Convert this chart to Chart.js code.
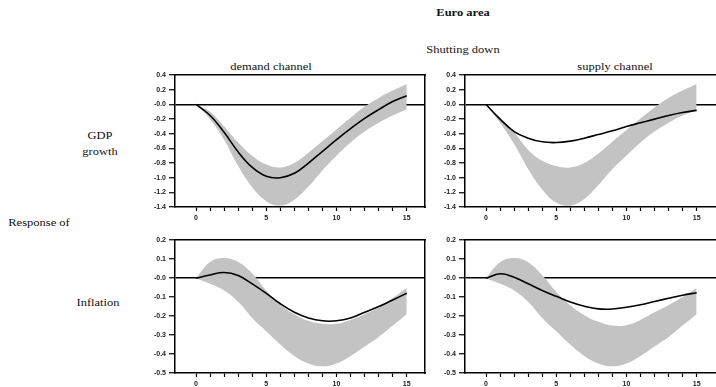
<!DOCTYPE html>
<html>
<head>
<meta charset="utf-8">
<script src="https://cdn.jsdelivr.net/npm/chart.js@4"></script>
<style>
  body { margin: 0; width: 716px; height: 387px; overflow: hidden; background: #fff; position: relative; }
  canvas { position: absolute; }
  .lbl { position: absolute; font-family: "Liberation Serif", "DejaVu Serif", serif; font-size: 12.5px; color: #111;
         transform: translate(-50%, -50%) scaleY(0.85); white-space: nowrap; }
</style>
</head>
<body>
<div class="lbl" style="left:463px; top:13px; font-weight:bold;">Euro area</div>
<div class="lbl" style="left:463px; top:50px;">Shutting down</div>
<div class="lbl" style="left:271px; top:67px;">demand channel</div>
<div class="lbl" style="left:615px; top:67px;">supply channel</div>
<div class="lbl" style="left:100px; top:136px;">GDP</div>
<div class="lbl" style="left:100px; top:152px;">growth</div>
<div class="lbl" style="left:39px; top:223px;">Response of</div>
<div class="lbl" style="left:98px; top:303px;">Inflation</div>

<canvas id="gdpDemand" width="287" height="159" style="left:140px; top:68px;"></canvas>
<canvas id="gdpSupply" width="289" height="159" style="left:430px; top:68px;"></canvas>
<canvas id="infDemand" width="287" height="160" style="left:140px; top:233px;"></canvas>
<canvas id="infSupply" width="289" height="160" style="left:430px; top:233px;"></canvas>

<script>
// quarters after the shock
const horizon = [0, 1, 2, 3, 4, 5, 6, 7, 8, 9, 10, 11, 12, 13, 14, 15];

// GDP growth, baseline band
const gdpBandUpper = [0, -0.10, -0.30, -0.52, -0.70, -0.82, -0.86, -0.80, -0.66, -0.50, -0.34, -0.18, -0.03, 0.09, 0.19, 0.28];
const gdpBandLower = [0, -0.20, -0.48, -0.84, -1.13, -1.32, -1.38, -1.30, -1.12, -0.90, -0.70, -0.52, -0.37, -0.25, -0.15, -0.07];
const gdpSupplyUpper = [0, -0.18, -0.38, -0.62, -0.77, -0.84, -0.86, -0.80, -0.67, -0.51, -0.35, -0.19, -0.04, 0.09, 0.19, 0.28];
const gdpSupplyLower = [0, -0.25, -0.54, -0.88, -1.16, -1.34, -1.38, -1.29, -1.10, -0.88, -0.70, -0.52, -0.37, -0.25, -0.15, -0.08];

// GDP growth, channel shut down
const gdpDemandLine = [0, -0.15, -0.38, -0.65, -0.86, -0.98, -1.00, -0.94, -0.80, -0.64, -0.48, -0.33, -0.19, -0.07, 0.04, 0.12];
const gdpSupplyLine = [0, -0.20, -0.37, -0.46, -0.51, -0.52, -0.50, -0.46, -0.41, -0.36, -0.30, -0.25, -0.20, -0.15, -0.11, -0.08];

// inflation, baseline band
const infDemandUpper = [0, 0.085, 0.106, 0.085, 0.025, -0.065, -0.14, -0.19, -0.225, -0.24, -0.24, -0.22, -0.19, -0.155, -0.105, -0.05];
const infSupplyUpper = [0, 0.084, 0.106, 0.084, 0.015, -0.072, -0.143, -0.195, -0.23, -0.25, -0.248, -0.22, -0.18, -0.143, -0.10, -0.052];
const infBandLower = [0, -0.03, -0.065, -0.125, -0.21, -0.28, -0.35, -0.41, -0.45, -0.465, -0.45, -0.41, -0.36, -0.31, -0.25, -0.19];

// inflation, channel shut down
const infDemandLine = [0, 0.017, 0.03, 0.014, -0.03, -0.08, -0.135, -0.18, -0.21, -0.225, -0.225, -0.21, -0.18, -0.15, -0.115, -0.08];
const infSupplyLine = [0, 0.023, 0.005, -0.03, -0.065, -0.096, -0.126, -0.148, -0.162, -0.163, -0.153, -0.14, -0.123, -0.106, -0.09, -0.077];

const gdpTicks = { min: -1.4, max: 0.4, step: 0.2 };
const infTicks = { min: -0.5, max: 0.2, step: 0.1 };

function pts(values) {
    return values.map((v, i) => ({ x: horizon[i], y: v }));
}

function drawPanel(id, line, upper, lower, yr, xMax) {
    const tickFont = { family: 'Arial, "Liberation Sans", sans-serif', size: 7, weight: 'bold' };
    new Chart(document.getElementById(id), {
        type: 'line',
        data: {
            datasets: [{
                data: pts(line),
                borderColor: '#000',
                borderWidth: 1.6,
                pointRadius: 0,
                tension: 0.4,
                fill: false
            },
            {
                data: pts(upper),
                borderWidth: 0,
                borderColor: 'rgba(0,0,0,0)',
                backgroundColor: '#c3c3c3',
                pointRadius: 0,
                tension: 0.4,
                fill: '+1'
            },
            {
                data: pts(lower),
                borderWidth: 0,
                borderColor: 'rgba(0,0,0,0)',
                pointRadius: 0,
                tension: 0.4,
                fill: false
            }]
        },
        options: {
            responsive: false,
            animation: false,
            devicePixelRatio: 1,
            layout: { padding: { top: 6, right: 2, left: 0, bottom: 0 } },
            plugins: { legend: { display: false }, tooltip: { enabled: false } },
            scales: {
                x: {
                    type: 'linear',
                    min: -1.5,
                    max: xMax,
                    afterBuildTicks: (s) => { s.ticks = horizon.map(v => ({ value: v })); },
                    afterFit: (s) => { s.height = 20; },
                    ticks: {
                        autoSkip: false,
                        maxRotation: 0,
                        padding: 3,
                        color: '#222',
                        font: tickFont,
                        callback: (v) => (v % 5 === 0 ? String(v) : '')
                    },
                    grid: { drawOnChartArea: false, tickLength: 4, tickColor: '#000', tickWidth: 1.2 },
                    border: { display: true, color: '#000', width: 1.5 }
                },
                xTop: {
                    type: 'linear',
                    position: 'top',
                    afterFit: (s) => { s.height = 0; },
                    ticks: { display: false },
                    grid: { display: false },
                    border: { display: true, color: '#000', width: 1.5 }
                },
                y: {
                    min: yr.min,
                    max: yr.max,
                    afterFit: (s) => { s.width = 35; },
                    ticks: {
                        stepSize: yr.step,
                        padding: 3,
                        color: '#222',
                        font: tickFont,
                        callback: (v) => (Math.abs(v) < 1e-9 ? '-0.0' : v.toFixed(1))
                    },
                    grid: {
                        drawOnChartArea: true,
                        tickLength: 6,
                        tickColor: '#000',
                        tickWidth: 1.2,
                        lineWidth: 1.5,
                        color: (c) => (Math.abs(c.tick.value) < 1e-9 ? '#000' : 'rgba(0,0,0,0)')
                    },
                    border: { display: true, color: '#000', width: 1.5 }
                },
                yRight: {
                    position: 'right',
                    afterFit: (s) => { s.width = 0; },
                    ticks: { display: false },
                    grid: { display: false },
                    border: { display: true, color: '#000', width: 1.5 }
                }
            }
        }
    });
}

drawPanel('gdpDemand', gdpDemandLine, gdpBandUpper, gdpBandLower, gdpTicks, 16.3);
drawPanel('gdpSupply', gdpSupplyLine, gdpSupplyUpper, gdpSupplyLower, gdpTicks, 16.45);
drawPanel('infDemand', infDemandLine, infDemandUpper, infBandLower, infTicks, 16.3);
drawPanel('infSupply', infSupplyLine, infSupplyUpper, infBandLower, infTicks, 16.45);
</script>
</body>
</html>
